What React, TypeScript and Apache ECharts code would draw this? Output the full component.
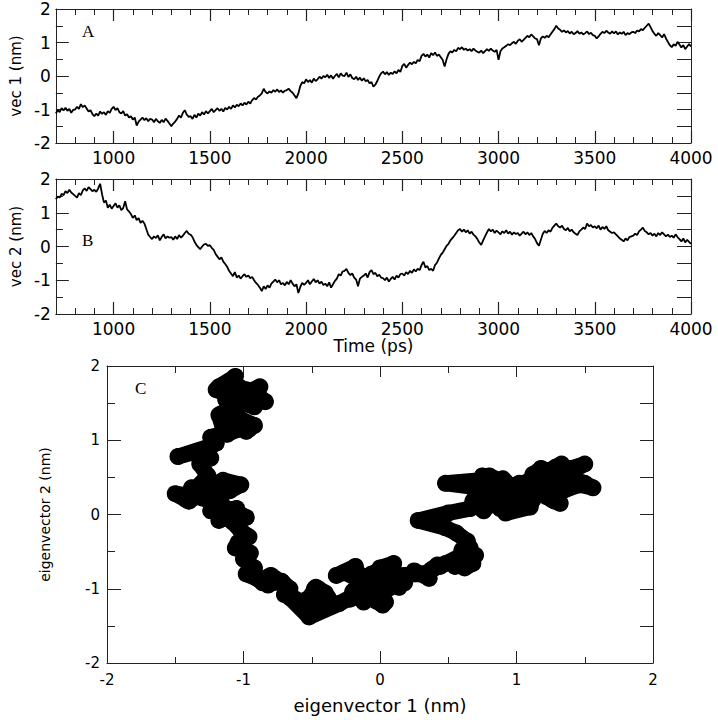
import React, { useEffect, useRef } from "react";
import * as echarts from "echarts";

// sampling grid of the trajectory (ps)
const T_START = 700;
const T_STEP = 10;

// projection on eigenvector 1 (nm), 700 ps ... 4000 ps every 10 ps
const vec1 = [
  -1.12, -1.02, -1.08, -0.96, -1.03, -0.95, -1.04, -0.98, -1.10, -1.01,
  -1.00, -0.92, -0.98, -0.84, -0.93, -0.88, -0.97, -1.06, -1.02, -1.14,
  -1.20, -1.12, -1.18, -1.06, -1.13, -1.08, -1.16, -1.05, -1.10, -0.98,
  -0.92, -1.02, -0.96, -1.08, -1.12, -1.05, -1.18, -1.14, -1.24, -1.20,
  -1.30, -1.24, -1.48, -1.36, -1.30, -1.24, -1.32, -1.26, -1.35, -1.28,
  -1.30, -1.38, -1.28, -1.35, -1.40, -1.31, -1.38, -1.27, -1.34, -1.42,
  -1.50, -1.42, -1.36, -1.28, -1.18, -1.24, -1.10, -1.02, -1.15, -1.22,
  -1.20, -1.28, -1.16, -1.24, -1.12, -1.18, -1.08, -1.15, -1.05, -1.12,
  -1.05, -0.98, -1.08, -1.02, -0.96, -1.04, -0.98, -1.06, -0.95, -1.00,
  -0.92, -0.98, -0.88, -0.94, -0.86, -0.90, -0.82, -0.88, -0.80, -0.85,
  -0.77, -0.82, -0.72, -0.66, -0.70, -0.62, -0.58, -0.52, -0.38, -0.48,
  -0.52, -0.46, -0.50, -0.42, -0.47, -0.40, -0.48, -0.43, -0.50, -0.44,
  -0.42, -0.38, -0.45, -0.50, -0.58, -0.66, -0.52, -0.30, -0.18, -0.22,
  -0.10, -0.18, -0.12, -0.20, -0.08, -0.15, -0.10, -0.02, -0.08, 0.00,
  -0.04, 0.04, -0.06, 0.02, -0.08, 0.00, 0.06, -0.04, 0.08, 0.01,
  0.00, 0.10, -0.03, 0.05, -0.06, -0.10, -0.02, -0.12, -0.05, -0.14,
  -0.07, -0.16, -0.12, -0.22, -0.18, -0.32, -0.26, -0.15, -0.02, 0.08,
  0.13, 0.05, 0.12, 0.03, 0.10, 0.06, 0.14, 0.08, 0.18, 0.12,
  0.30, 0.36, 0.25, 0.33, 0.40, 0.35, 0.42, 0.38, 0.48, 0.44,
  0.60, 0.66, 0.58, 0.64, 0.55, 0.68, 0.62, 0.70, 0.60, 0.64,
  0.56, 0.48, 0.28, 0.50, 0.66, 0.74, 0.70, 0.78, 0.74, 0.84,
  0.80, 0.86, 0.78, 0.82, 0.76, 0.80, 0.74, 0.82, 0.76, 0.72,
  0.70, 0.76, 0.68, 0.74, 0.80, 0.75, 0.82, 0.76, 0.72, 0.78,
  0.48, 0.74, 0.82, 0.86, 0.90, 0.95, 0.92, 0.98, 1.02, 0.96,
  1.05, 1.10, 1.02, 1.08, 1.14, 1.20, 1.16, 1.24, 1.18, 1.12,
  1.10, 0.92, 1.12, 1.18, 1.14, 1.20, 1.16, 1.24, 1.32, 1.40,
  1.50, 1.42, 1.38, 1.32, 1.36, 1.30, 1.34, 1.27, 1.32, 1.25,
  1.28, 1.34, 1.26, 1.30, 1.24, 1.28, 1.33, 1.25, 1.29, 1.22,
  1.20, 1.12, 1.18, 1.26, 1.32, 1.28, 1.35, 1.30, 1.26, 1.33,
  1.27, 1.33, 1.24, 1.30, 1.26, 1.32, 1.22, 1.28, 1.25, 1.30,
  1.32, 1.28, 1.36, 1.33, 1.40, 1.37, 1.44, 1.50, 1.56, 1.46,
  1.34, 1.26, 1.20, 1.28, 1.22, 1.15, 1.25, 1.12, 1.02, 0.92,
  0.86, 0.95, 0.90, 1.02, 0.94, 0.85, 0.92, 0.80, 0.88, 0.95,
  0.88,
];

// projection on eigenvector 2 (nm), same times
const vec2 = [
  1.40, 1.48, 1.45, 1.56, 1.52, 1.64, 1.58, 1.68, 1.60, 1.55,
  1.50, 1.45, 1.58, 1.52, 1.66, 1.72, 1.65, 1.76, 1.70, 1.64,
  1.68, 1.62, 1.72, 1.86, 1.55, 1.30, 1.36, 1.15, 1.24, 1.12,
  1.20, 1.28, 1.15, 1.22, 1.08, 1.14, 1.34, 1.10, 1.04, 0.96,
  0.85, 0.92, 0.78, 0.84, 0.70, 0.76, 0.68, 0.52, 0.35, 0.28,
  0.22, 0.30, 0.25, 0.33, 0.18, 0.28, 0.36, 0.24, 0.30, 0.26,
  0.28, 0.20, 0.30, 0.22, 0.34, 0.26, 0.32, 0.40, 0.46, 0.38,
  0.35, 0.28, 0.15, 0.05, -0.02, -0.08, 0.00, 0.06, 0.08, 0.02,
  0.04, -0.04, -0.10, -0.22, -0.30, -0.38, -0.32, -0.45, -0.52, -0.60,
  -0.72, -0.80, -0.88, -0.76, -0.92, -0.86, -0.95, -0.88, -0.82, -0.90,
  -0.86, -0.94, -0.90, -1.00, -1.08, -1.14, -1.22, -1.32, -1.18, -1.26,
  -1.15, -1.22, -1.10, -1.04, -0.98, -1.06, -1.00, -1.12, -1.08, -1.15,
  -1.05, -1.12, -1.00, -1.10, -1.18, -1.12, -1.38, -1.20, -1.08, -1.14,
  -1.08, -1.00, -1.12, -1.04, -0.96, -1.06, -1.00, -1.10, -1.04, -1.14,
  -1.10, -1.18, -1.06, -1.22, -1.12, -1.02, -0.95, -0.82, -0.86, -0.74,
  -0.72, -0.66, -0.78, -0.85, -0.80, -0.92, -0.98, -1.18, -0.95, -0.90,
  -0.86, -0.80, -0.92, -0.76, -0.70, -0.82, -0.78, -0.88, -0.84, -0.92,
  -0.94, -1.00, -0.92, -1.04, -0.96, -0.90, -0.98, -0.86, -0.92, -0.82,
  -0.80, -0.86, -0.76, -0.82, -0.72, -0.78, -0.68, -0.74, -0.66, -0.70,
  -0.55, -0.45, -0.62, -0.58, -0.70, -0.66, -0.72, -0.55, -0.48, -0.36,
  -0.25, -0.18, -0.08, 0.02, 0.08, 0.18, 0.25, 0.32, 0.40, 0.48,
  0.52, 0.44, 0.50, 0.42, 0.48, 0.38, 0.44, 0.35, 0.30, 0.22,
  0.12, 0.05, 0.18, 0.30, 0.42, 0.52, 0.45, 0.50, 0.40, 0.47,
  0.42, 0.36, 0.45, 0.40, 0.48, 0.38, 0.44, 0.35, 0.42, 0.37,
  0.40, 0.32, 0.38, 0.44, 0.36, 0.42, 0.34, 0.40, 0.30, 0.22,
  0.10, 0.02, 0.20, 0.38, 0.46, 0.40, 0.48, 0.44, 0.55, 0.62,
  0.68, 0.60, 0.56, 0.62, 0.52, 0.48, 0.55, 0.45, 0.50, 0.42,
  0.38, 0.34, 0.45, 0.50, 0.56, 0.52, 0.68, 0.60, 0.64, 0.56,
  0.60, 0.54, 0.62, 0.50, 0.58, 0.52, 0.60, 0.48, 0.44, 0.40,
  0.42, 0.36, 0.30, 0.24, 0.20, 0.15, 0.24, 0.18, 0.28, 0.30,
  0.32, 0.38, 0.34, 0.45, 0.50, 0.56, 0.46, 0.42, 0.36, 0.40,
  0.32, 0.38, 0.30, 0.40, 0.34, 0.42, 0.36, 0.30, 0.35, 0.28,
  0.32, 0.26, 0.36, 0.28, 0.22, 0.15, 0.24, 0.12, 0.20, 0.14,
  0.08,
];

const times = vec1.map((_, i) => T_START + T_STEP * i);

const timeMajorTicks = [1000, 1500, 2000, 2500, 3000, 3500, 4000];
const panelLetters = ["A", "B", "C"];
const yNames = ["vec 1 (nm)", "vec 2 (nm)"];
const xNameTime = "Time (ps)";
const xNameC = "eigenvector 1 (nm)";
const yNameC = "eigenvector 2 (nm)";

const FRAME = "#222";
const SANS = "DejaVu Sans";
const SERIF = "Liberation Serif";

const GRID_A = { left: 52, top: 9, width: 639, height: 134 };
const GRID_B = { left: 52, top: 179, width: 639, height: 135 };
const GRID_C = { left: 107, top: 366, width: 546, height: 297 };
const MAJOR_TICK_PX = 12;

function timeAxes(g: number, withLabels: boolean, name?: string) {
  const lineStyle = { color: FRAME, width: 1 };
  return [
    {
      type: "value",
      gridIndex: g,
      position: "bottom",
      min: 700,
      max: 4000,
      interval: 100,
      splitLine: { show: false },
      axisLine: { show: true, onZero: false, lineStyle },
      axisTick: { show: true, inside: true, length: 6, lineStyle },
      axisLabel: {
        show: withLabels,
        formatter: (v: number) => (v % 500 === 0 ? String(v) : ""),
        color: "#000",
        fontSize: 17,
        fontFamily: SANS,
        margin: 6,
      },
      name: name || "",
      nameLocation: "middle",
      nameGap: 22,
      nameTextStyle: { color: "#000", fontSize: 17, fontFamily: SANS, verticalAlign: "top" },
    },
    {
      type: "value",
      gridIndex: g,
      position: "top",
      min: 700,
      max: 4000,
      interval: 100,
      splitLine: { show: false },
      axisLine: { show: true, onZero: false, lineStyle },
      axisTick: { show: true, inside: true, length: 6, lineStyle },
      axisLabel: { show: false },
    },
  ];
}

// long (major) ticks of the time axes, drawn through the axes' scales
function majorTimeTicks(gridHeight: number) {
  const len = (MAJOR_TICK_PX * 4) / gridHeight; // in nm
  const data: any[] = [];
  timeMajorTicks.forEach((t) => {
    data.push([{ coord: [t, -2] }, { coord: [t, -2 + len] }]);
    data.push([{ coord: [t, 2] }, { coord: [t, 2 - len] }]);
  });
  return {
    silent: true,
    symbol: ["none", "none"],
    label: { show: false },
    lineStyle: { color: FRAME, width: 1.2, type: "solid" },
    emphasis: { disabled: true },
    data,
  };
}

function valueYAxes(g: number, name: string, labelSize: number, nameSize: number, nameGap: number, majorLen: number, minorLen: number, rightLen: number, margin: number) {
  const lineStyle = { color: FRAME, width: 1 };
  return [
    {
      type: "value",
      gridIndex: g,
      position: "left",
      min: -2,
      max: 2,
      interval: 1,
      splitLine: { show: false },
      axisLine: { show: true, onZero: false, lineStyle },
      axisTick: { show: true, inside: true, length: majorLen, lineStyle },
      minorTick: { show: true, splitNumber: 2, length: minorLen, lineStyle },
      axisLabel: { color: "#000", fontSize: labelSize, fontFamily: SANS, margin },
      name,
      nameLocation: "middle",
      nameGap,
      nameTextStyle: { color: "#000", fontSize: nameSize, fontFamily: SANS },
    },
    {
      type: "value",
      gridIndex: g,
      position: "right",
      min: -2,
      max: 2,
      interval: 0.5,
      splitLine: { show: false },
      axisLine: { show: true, onZero: false, lineStyle },
      axisTick: { show: true, inside: true, length: rightLen, lineStyle },
      axisLabel: { show: false },
    },
  ];
}

export default function App() {
  const ref = useRef<HTMLDivElement>(null);

  useEffect(() => {
    if (!ref.current) return;
    const chart = echarts.init(ref.current, undefined, { renderer: "svg" });
    const lineStyle = { color: FRAME, width: 1 };

    const seriesA = times.map((t, i) => [t, vec1[i]]);
    const seriesB = times.map((t, i) => [t, vec2[i]]);
    const seriesC = vec1.map((v, i) => [v, vec2[i]]);

    const xAxes: any[] = [
      ...timeAxes(0, true),
      ...timeAxes(1, true, xNameTime),
      {
        type: "value",
        gridIndex: 2,
        position: "bottom",
        min: -2,
        max: 2,
        interval: 1,
        splitLine: { show: false },
        axisLine: { show: true, onZero: false, lineStyle },
        axisTick: { show: true, inside: true, length: 12, lineStyle },
        minorTick: { show: true, splitNumber: 2, length: 6, lineStyle },
        axisLabel: { color: "#000", fontSize: 15, fontFamily: SANS, margin: 9 },
        name: xNameC,
        nameLocation: "middle",
        nameGap: 33,
        nameTextStyle: { color: "#000", fontSize: 18, fontFamily: SANS, verticalAlign: "top" },
      },
      {
        type: "value",
        gridIndex: 2,
        position: "top",
        min: -2,
        max: 2,
        interval: 1,
        splitLine: { show: false },
        axisLine: { show: true, onZero: false, lineStyle },
        axisTick: { show: true, inside: true, length: 11, lineStyle },
        minorTick: { show: true, splitNumber: 2, length: 7, lineStyle },
        axisLabel: { show: false },
      },
    ];

    const yAxes: any[] = [
      ...valueYAxes(0, yNames[0], 17, 15, 27, 13, 7, 14, 5),
      ...valueYAxes(1, yNames[1], 17, 15, 27, 13, 7, 14, 5),
      ...valueYAxes(2, yNameC, 15, 14, 55, 14, 8, 13, 7),
    ];

    chart.setOption({
      animation: false,
      backgroundColor: "#fff",
      grid: [GRID_A, GRID_B, GRID_C],
      xAxis: xAxes,
      yAxis: yAxes,
      series: [
        {
          type: "line",
          xAxisIndex: 0,
          yAxisIndex: 0,
          data: seriesA,
          showSymbol: false,
          lineStyle: { color: "#000", width: 1.8 },
          silent: true,
          markLine: majorTimeTicks(GRID_A.height),
        },
        {
          type: "line",
          xAxisIndex: 2,
          yAxisIndex: 2,
          data: seriesB,
          showSymbol: false,
          lineStyle: { color: "#000", width: 1.8 },
          silent: true,
          markLine: majorTimeTicks(GRID_B.height),
        },
        {
          type: "line",
          xAxisIndex: 4,
          yAxisIndex: 4,
          data: seriesC,
          showSymbol: true,
          symbol: "circle",
          symbolSize: 17,
          itemStyle: { color: "#000" },
          lineStyle: { color: "#000", width: 16, cap: "round", join: "round" },
          silent: true,
        },
      ],
      graphic: [
        { type: "text", left: 82, top: 23, style: { text: panelLetters[0], font: `17px "${SERIF}"`, fill: "#000" } },
        { type: "text", left: 82, top: 232, style: { text: panelLetters[1], font: `17px "${SERIF}"`, fill: "#000" } },
        { type: "text", left: 135, top: 380, style: { text: panelLetters[2], font: `17px "${SERIF}"`, fill: "#000" } },
      ],
    });

    return () => chart.dispose();
  }, []);

  return (
    <div
      ref={ref}
      style={{ position: "absolute", left: 0, top: 0, width: 718, height: 720, background: "#fff" }}
    />
  );
}
